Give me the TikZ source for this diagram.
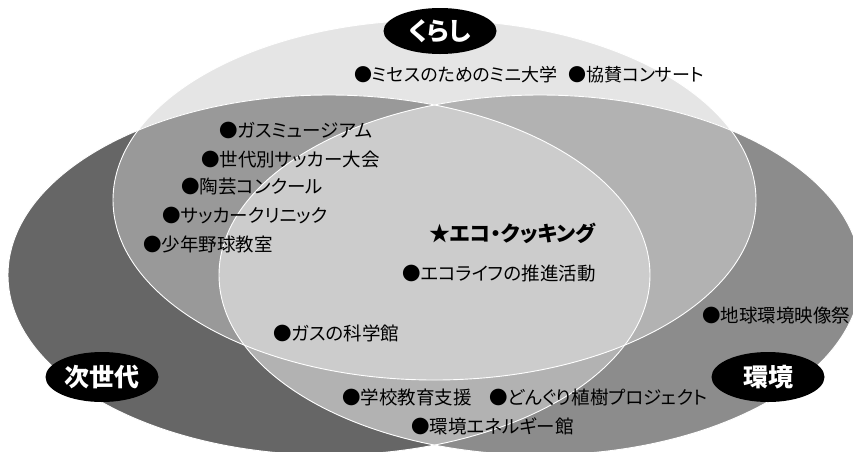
\documentclass[tikz,border=0pt]{standalone}
\usepackage{fontspec}
\newfontfamily\jp[RawFeature=+palt]{Noto Sans CJK JP}
\usetikzlibrary{shapes.geometric}
\definecolor{cT}{gray}{0.9}
\definecolor{cL}{gray}{0.4}
\definecolor{cR}{gray}{0.55}
\definecolor{cTL}{gray}{0.6}
\definecolor{cTR}{gray}{0.7}
\definecolor{cLR}{gray}{0.7}
\definecolor{cTLR}{gray}{0.8}
\begin{document}
\begin{tikzpicture}[x=1pt,y=-1pt,
  item/.style={anchor=west, inner sep=0pt, font=\jp\fontsize{18.5}{20}\selectfont},
  star/.style={anchor=west, inner sep=0pt, font=\jp\bfseries\fontsize{21}{23}\selectfont},
  tag/.style={ellipse, fill=black, text=white, inner sep=0pt, minimum width=113pt, minimum height=50pt, font=\jp\bfseries\fontsize{25}{27}\selectfont},
  outline/.style={draw=white, line width=0.9pt}]
\useasboundingbox (0,0) rectangle (853,451);
\clip (0,0) rectangle (853,451);
\def\Et{(434.5,200) ellipse [x radius=321.5pt, y radius=180pt]}
\def\El{(329,275) ellipse [x radius=321pt, y radius=180pt]}
\def\Er{(540,275) ellipse [x radius=321pt, y radius=180pt]}
% single regions
\fill[cT] \Et;
\fill[cL] \El;
\fill[cR] \Er;
% pairwise
\begin{scope}\clip \Et; \fill[cTL] \El; \end{scope}
\begin{scope}\clip \Et; \fill[cTR] \Er; \end{scope}
\begin{scope}\clip \El; \fill[cLR] \Er; \end{scope}
% triple
\begin{scope}\clip \Et; \clip \El; \fill[cTLR] \Er; \end{scope}
% outlines
\draw[outline] \Et;
\draw[outline] \El;
\draw[outline] \Er;
% group labels
\node[tag, minimum height=46pt] (kurashi) at (440,31) {くらし};
\node[tag] (jisedai) at (102,377) {次世代};
\node[tag] (kankyo) at (768,377) {環境};
% items
\node[item, font=\jp\fontsize{18}{20}\selectfont] (i1) at (354,75) {●ミセスのためのミニ大学};
\node[item, font=\jp\fontsize{18}{20}\selectfont] (i2) at (568,75) {●協賛コンサート};
\node[item] (i3) at (219,130) {●ガスミュージアム};
\node[item] (i4) at (201,159) {●世代別サッカー大会};
\node[item] (i5) at (181,187) {●陶芸コンクール};
\node[item] (i6) at (162,216) {●サッカークリニック};
\node[item] (i7) at (143,244) {●少年野球教室};
\node[star] (i8) at (429,233) {★エコ・クッキング};
\node[item] (i9) at (402,273) {●エコライフの推進活動};
\node[item] (i10) at (702,315) {●地球環境映像祭};
\node[item] (i11) at (273,333) {●ガスの科学館};
\node[item] (i12) at (342,397) {●学校教育支援};
\node[item] (i13) at (489,397) {●どんぐり植樹プロジェクト};
\node[item] (i14) at (411,426) {●環境エネルギー館};
\end{tikzpicture}
\end{document}
